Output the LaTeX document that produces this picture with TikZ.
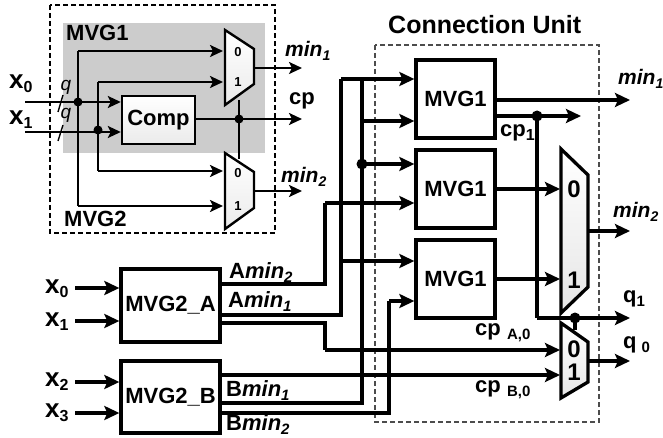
\documentclass[tikz,border=0pt]{standalone}
\usepackage{fontspec}
\setmainfont{Liberation Sans}
\usetikzlibrary{arrows.meta}
\newcommand{\fs}[1]{\fontsize{#1}{#1}\selectfont}
\newcommand{\dn}[2][14]{\raisebox{-4pt}{\fs{#1}#2}}
\tikzset{
  wa/.style={line width=3.3pt,-{Stealth[length=15pt,width=14pt,inset=3pt]}},
  wl/.style={line width=3.3pt},
  ia/.style={line width=2.4pt,-{Stealth[length=13pt,width=12pt,inset=3pt]}},
  il/.style={line width=2.4pt},
  dotn/.style={circle,fill=black,inner sep=0pt,minimum size=#1},
  blockbox/.style={draw,line width=3.3pt,inner sep=0pt,font=\bfseries\fs{22}},
  muxshape/.style={draw,line width=2.4pt,line join=miter,top color=white,bottom color=black!8},
  bigmux/.style={draw,line width=3.3pt,line join=miter,top color=white,bottom color=black!10},
  txt/.style={inner sep=0pt,font=\bfseries\fs{22},anchor=west},
  it/.style={inner sep=0pt,font=\bfseries\itshape\fs{21},anchor=west},
  muxd/.style={inner sep=0pt,font=\bfseries\fs{13}},
  muxb/.style={inner sep=0pt,font=\bfseries\fs{24}},
  qt/.style={inner sep=0pt,font=\itshape\fs{19}}
}
\begin{document}
\begin{tikzpicture}[x=1pt,y=-1pt]
\useasboundingbox (0,0) rectangle (663,438);
% inset
\fill[black!20] (63,23) rectangle (265,153);
\draw[line width=2.4pt,dash pattern=on 5pt off 3pt] (50,5) rectangle (275,233);
\draw[line width=1.6pt,dash pattern=on 5pt off 3pt,black!70] (375,45) rectangle (599,422);
\node[txt] (lm1) at (66,33) {MVG1};
\node[txt] (lm2) at (64,219) {MVG2};
% inset muxes
\draw[muxshape] (225,30) -- (254,49) -- (254,84) -- (225,105) -- cycle;
\draw[muxshape] (225,153) -- (254,172) -- (254,208) -- (225,229) -- cycle;
\node[muxd] (a0) at (238,52) {0};
\node[muxd] (a1) at (238,82) {1};
\node[muxd] (b0) at (238,173) {0};
\node[muxd] (b1) at (238,206) {1};
\node[draw,line width=2.4pt,top color=white,bottom color=black!8,minimum width=73pt,minimum height=48pt,inner sep=0pt,font=\bfseries\fs{22}] (comp) at (158.5,120) {Comp};
% inset coordinates
\coordinate (ix0) at (25,102);
\coordinate (ix1) at (25,132);
\coordinate (jx0) at (78,102);
\coordinate (jx1) at (98,130);
\coordinate (mua) at (223,51);
\coordinate (mub) at (223,82);
\coordinate (muc) at (223,171);
\coordinate (mud) at (223,206);
\coordinate (jcp) at (239,119);
\coordinate (mt) at (239,100);
\coordinate (mb) at (239,159);
\coordinate (oa) at (254,68);
\coordinate (ob) at (254,191);
\coordinate (tipa) at (302,68);
\coordinate (tipb) at (302,191);
\coordinate (tipc) at (302,119);
\draw[il] (mua -| jx0) -- (mud -| jx0);
\draw[il] (mub -| jx1) -- (muc -| jx1);
\draw[ia] (mua -| jx0) -- (mua);
\draw[ia] (mud -| jx0) -- (mud);
\draw[ia] (mub -| jx1) -- (mub);
\draw[ia] (muc -| jx1) -- (muc);
\draw[ia] (ix0) -- (ix0 -| comp.west);
\draw[ia] (ix1) -- (ix1 -| comp.west);
\draw[ia] (comp.east |- jcp) -- (tipc);
\draw[il] (mt) -- (mb);
\draw[ia] (oa) -- (tipa);
\draw[ia] (ob) -- (tipb);
\node[dotn=9pt] (d1) at (jx0) {};
\node[dotn=9pt] (d2) at (jx1) {};
\node[dotn=9pt] (d3) at (jcp) {};
\coordinate (s1a) at (63,95); \coordinate (s1b) at (58,112);
\coordinate (s2a) at (63,125); \coordinate (s2b) at (58,141);
\draw[line width=1.4pt] (s1a) -- (s1b);
\draw[line width=1.4pt] (s2a) -- (s2b);
\node[qt] (q1l) at (66,87) {q};
\node[qt] (q2l) at (66,115) {q};
\node[txt,font=\bfseries\fs{26}] (x0t) at (9,84) {x\dn[16]{0}};
\node[txt,font=\bfseries\fs{26}] (x1t) at (9,120) {x\dn[16]{1}};
\node[it] (min1a) at (285,51) {min\dn[14]{1}};
\node[it] (min2a) at (281,177) {min\dn[14]{2}};
\node[txt] (cpa) at (289,101) {cp};
% main blocks
\node[txt,font=\bfseries\fs{25}] (cu) at (388,25) {Connection Unit};
\node[blockbox,minimum width=79pt,minimum height=78pt] (m1) at (455.5,99) {MVG1};
\node[blockbox,minimum width=79pt,minimum height=78pt] (m2) at (455.5,189) {MVG1};
\node[blockbox,minimum width=79pt,minimum height=78pt] (m3) at (455.5,279) {MVG1};
\node[blockbox,minimum width=99pt,minimum height=73pt] (ma) at (170.5,305.5) {MVG2\_A};
\node[blockbox,minimum width=99pt,minimum height=72pt] (mb2) at (170.5,397) {MVG2\_B};
\draw[bigmux] (561,149) -- (588,175) -- (588,287) -- (561,313) -- cycle;
\draw[bigmux] (561,323) -- (588,342) -- (588,382) -- (561,398) -- cycle;
\node[muxb] (c0) at (574,189) {0};
\node[muxb] (c1) at (574,280) {1};
\node[muxb] (d0) at (574,349) {0};
\node[muxb] (d1b) at (574,372) {1};
% main coordinates
\coordinate (c79) at (341,79);
\coordinate (c121) at (362,121);
\coordinate (c164) at (362,164);
\coordinate (c203) at (325,203);
\coordinate (c261) at (341,261);
\coordinate (c301) at (389,301);
\coordinate (a1y) at (0,284);
\coordinate (a2y) at (0,315);
\coordinate (a3y) at (325,323);
\coordinate (a3d) at (325,350);
\coordinate (b1y) at (0,375);
\coordinate (b2y) at (362,403);
\coordinate (b3y) at (389,413);
\coordinate (muxL) at (560,0);
\coordinate (tipR) at (630,0);
% A outputs
\draw[wl] (ma.east |- a1y) -| (c203);
\draw[wa] (c203) -- (c203 -| m2.west);
\draw[wl] (ma.east |- a2y) -| (c79);
\draw[wa] (c79) -- (c79 -| m1.west);
\draw[wa] (c261) -- (c261 -| m3.west);
\draw[wl] (ma.east |- a3y) -- (a3y) -- (a3d);
\draw[wa] (a3d) -- (a3d -| muxL);
% B outputs
\draw[wa] (mb2.east |- b1y) -- (b1y -| muxL);
\draw[wl] (mb2.east |- b2y) -- (b2y) -- (c79 -| b2y);
\draw[wa] (c121) -- (c121 -| m1.west);
\draw[wa] (c164) -- (c164 -| m2.west);
\draw[wl] (mb2.east |- b3y) -- (b3y) -- (c301);
\draw[wa] (c301) -- (c301 -| m3.west);
\node[dotn=11pt] (d4) at (c164) {};
% inputs
\coordinate (xa) at (75,288); \coordinate (xb) at (75,321);
\coordinate (xc) at (75,382); \coordinate (xd) at (75,413);
\draw[wa] (xa) -- (xa -| ma.west);
\draw[wa] (xb) -- (xb -| ma.west);
\draw[wa] (xc) -- (xc -| mb2.west);
\draw[wa] (xd) -- (xd -| mb2.west);
\node[txt,font=\bfseries\fs{26}] (x0b) at (45,289) {x\dn[16]{0}};
\node[txt,font=\bfseries\fs{26}] (x1b) at (45,322) {x\dn[16]{1}};
\node[txt,font=\bfseries\fs{26}] (x2b) at (45,382) {x\dn[16]{2}};
\node[txt,font=\bfseries\fs{26}] (x3b) at (45,413) {x\dn[16]{3}};
% main outputs
\coordinate (o1) at (0,100);
\coordinate (o2) at (0,116);
\coordinate (j2) at (537,116);
\coordinate (o3) at (537,318);
\coordinate (j3) at (575,318);
\coordinate (o4) at (575,330);
\coordinate (o5) at (0,189);
\coordinate (o6) at (0,279);
\coordinate (o7) at (588,231);
\coordinate (o8) at (588,361);
\draw[wa] (m1.east |- o1) -- (o1 -| tipR);
\draw[wa] (m1.east |- o2) -- (581,116);
\draw[wl] (j2) -- (o3);
\draw[wa] (o3) -- (o3 -| tipR);
\draw[wl] (j3) -- (o4);
\draw[wa] (m2.east |- o5) -- (o5 -| muxL);
\draw[wa] (m3.east |- o6) -- (o6 -| muxL);
\draw[wa] (o7) -- (o7 -| tipR);
\draw[wa] (o8) -- (o8 -| tipR);
\node[dotn=11pt] (d5) at (j2) {};
\node[dotn=11pt] (d6) at (j3) {};
% labels
\node[txt] (amin2) at (229,273) {A\textit{min}\dn[15]{\textit{2}}};
\node[txt] (amin1) at (228,302) {A\textit{min}\dn[15]{\textit{1}}};
\node[txt] (bmin1) at (226,391) {B\textit{min}\dn[15]{\textit{1}}};
\node[txt] (bmin2) at (226,425) {B\textit{min}\dn[15]{\textit{2}}};
\node[it] (min1b) at (618,79) {min\dn[14]{1}};
\node[it] (min2b) at (613,212) {min\dn[14]{2}};
\node[txt] (cp1) at (500,133) {cp\dn[16]{1}};
\node[txt] (cpa0) at (475,333) {cp\,\dn[15]{\,A,0}};
\node[txt] (cpb0) at (475,390) {cp\,\dn[15]{\,B,0}};
\node[txt] (q1) at (623,299) {q\dn[15]{1}};
\node[txt] (q0) at (623,345) {q\dn[15]{\,\,0}};
\end{tikzpicture}
\end{document}
